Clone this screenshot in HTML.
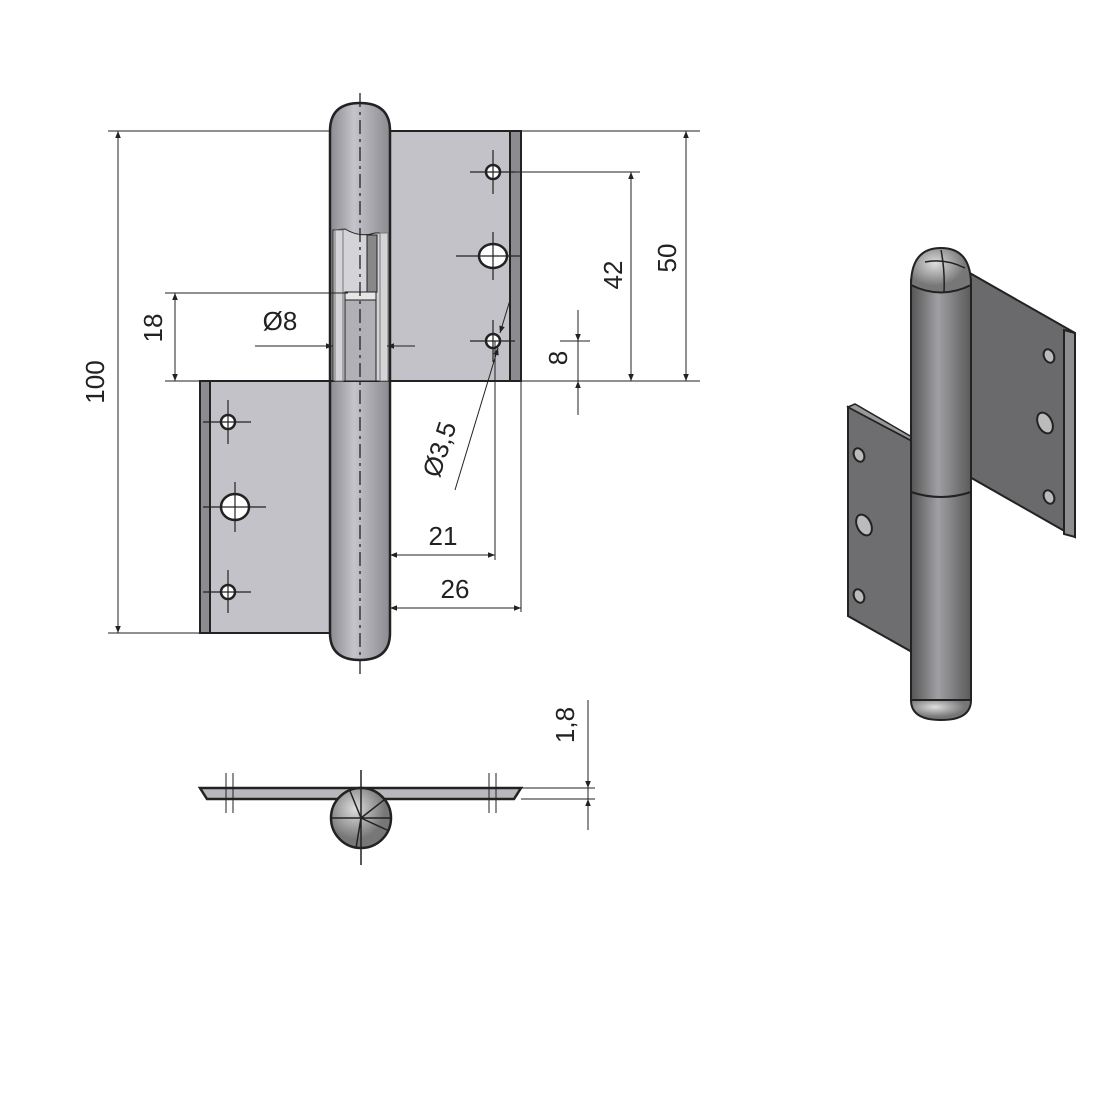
<!DOCTYPE html>
<html><head><meta charset="utf-8"><style>html,body{margin:0;padding:0;background:#fff}svg{display:block}text{font-family:"Liberation Sans",sans-serif;fill:#222}</style></head>
<body>
<svg width="1120" height="1101" viewBox="0 0 1120 1101" xmlns="http://www.w3.org/2000/svg">
<defs>
<linearGradient id="pin" x1="0" x2="1"><stop offset="0" stop-color="#8a8a90"/><stop offset=".4" stop-color="#c4c4ca"/><stop offset="1" stop-color="#8a8a90"/></linearGradient>
<linearGradient id="ipin" x1="0" x2="1"><stop offset="0" stop-color="#555"/><stop offset=".45" stop-color="#a0a0a4"/><stop offset="1" stop-color="#5a5a5a"/></linearGradient>
<radialGradient id="ball" cx=".4" cy=".35"><stop offset="0" stop-color="#ddd"/><stop offset="1" stop-color="#777"/></radialGradient>
<marker id="a" viewBox="0 0 10 10" refX="10" refY="5" markerWidth="9" markerHeight="7" orient="auto-start-reverse"><path d="M0,1L10,5L0,9z" fill="#222"/></marker>
</defs>
<g stroke="#222" stroke-width="1">
<rect x="388" y="131" width="133" height="250" fill="#c2c2c8" stroke-width="2"/>
<rect x="510" y="131" width="11" height="250" fill="#8c8c90" stroke-width="2"/>
<rect x="200" y="381" width="133" height="252" fill="#c2c2c8" stroke-width="2"/>
<rect x="200" y="381" width="10" height="252" fill="#8c8c90" stroke-width="2"/>
<path d="M330,131 Q330,103 360,103 Q390,103 390,131 L390,633 Q390,660 360,660 Q330,660 330,633 Z" fill="url(#pin)" stroke-width="2.5"/>
<line x1="330" y1="381" x2="390" y2="381" stroke-width="2"/>
<path d="M333,230 L345,229 Q360,238 375,233 L388,233 L388,381 L333,381 Z" fill="#d4d4d8" stroke-width="1"/>
<rect x="335" y="230" width="8" height="151" fill="none" stroke="#777"/>
<rect x="380" y="233" width="8" height="148" fill="none" stroke="#777"/>
<rect x="345" y="292" width="31" height="89" fill="#b0b0b6"/>
<rect x="345" y="292" width="31" height="8" fill="#e6e6e6"/>
<rect x="367" y="235" width="10" height="57" fill="#888"/>
<line x1="360" y1="93" x2="360" y2="675" stroke-dasharray="14,5,3,5" stroke-width="1.3"/>
<g fill="#fff" stroke-width="2.5">
<circle cx="493" cy="172" r="7"/><ellipse cx="493" cy="256" rx="14" ry="12"/><circle cx="493" cy="341" r="7"/>
<circle cx="228" cy="422" r="7"/><ellipse cx="235" cy="507" rx="14" ry="13"/><circle cx="228" cy="592" r="7"/>
</g>
<g stroke-width="1.2">
<path d="M470,172H515M493,150V194M456,256H520M493,232V280M470,341H515M493,320V362"/>
<path d="M203,422H251M228,400V444M203,507H266M235,482V532M203,592H251M228,570V613"/>
</g>
<g stroke-width="1" fill="none">
<path d="M108,131H330M108,633H330M165,293H348M165,381H200M470,172H640M390,381H700M521,131H700M521,381V612M495,341V560M560,341H590M560,381H590"/>
<line x1="118" y1="131" x2="118" y2="633" marker-start="url(#a)" marker-end="url(#a)"/>
<line x1="175" y1="293" x2="175" y2="381" marker-start="url(#a)" marker-end="url(#a)"/>
<line x1="631" y1="172" x2="631" y2="381" marker-start="url(#a)" marker-end="url(#a)"/>
<line x1="686" y1="131" x2="686" y2="381" marker-start="url(#a)" marker-end="url(#a)"/>
<line x1="578" y1="310" x2="578" y2="341" marker-end="url(#a)"/>
<line x1="578" y1="415" x2="578" y2="381" marker-end="url(#a)"/>
<line x1="578" y1="341" x2="578" y2="381"/>
<line x1="255" y1="346" x2="332" y2="346"/><line x1="388" y1="346" x2="415" y2="346"/>
<line x1="320" y1="346" x2="333" y2="346" marker-end="url(#a)"/><line x1="400" y1="346" x2="387" y2="346" marker-end="url(#a)"/>
<line x1="390" y1="555" x2="495" y2="555" marker-start="url(#a)" marker-end="url(#a)"/>
<line x1="390" y1="608" x2="521" y2="608" marker-start="url(#a)" marker-end="url(#a)"/>
<line x1="455" y1="490" x2="498" y2="348" marker-end="url(#a)"/>
<line x1="510" y1="300" x2="500" y2="333" marker-end="url(#a)"/>
</g>
<path d="M200,788H521L514,799H207Z" fill="#b8b8bc" stroke-width="2.5"/>
<circle cx="361" cy="818" r="30" fill="url(#ball)" stroke-width="2.5"/>
<path d="M361,818L350,791M361,818L384,800M361,818L387,830M361,818L356,848M330,818H390M361,770V865" stroke-width="1.5"/>
<path d="M226,773V813M233,773V813M489,773V813M496,773V813" stroke-width="1"/>
<path d="M521,788H595M521,799H595M588,700V830" stroke-width="1" fill="none"/>
<line x1="588" y1="770" x2="588" y2="788" marker-end="url(#a)"/>
<line x1="588" y1="815" x2="588" y2="799" marker-end="url(#a)"/>
<polygon points="968,272 1075,333 1075,537 968,476" fill="#6a6a6c" stroke-width="2"/>
<polygon points="1064,330 1075,333 1075,537 1064,534" fill="#8e8e90" stroke-width="2"/>
<polygon points="848,407 912,441 912,652 848,616" fill="#6e6e70" stroke-width="2"/>
<polygon points="848,407 855,404 912,437 912,441" fill="#999" stroke-width="1.5"/>
<g fill="#bbb" stroke-width="2">
<ellipse cx="1049" cy="356" rx="5" ry="7" transform="rotate(-25 1049 356)"/>
<ellipse cx="1045" cy="423" rx="7" ry="11" transform="rotate(-25 1045 423)"/>
<ellipse cx="1049" cy="497" rx="5" ry="7" transform="rotate(-25 1049 497)"/>
<ellipse cx="859" cy="455" rx="5" ry="7" transform="rotate(-25 859 455)"/>
<ellipse cx="864" cy="525" rx="7" ry="11" transform="rotate(-25 864 525)"/>
<ellipse cx="859" cy="596" rx="5" ry="7" transform="rotate(-25 859 596)"/>
</g>
<rect x="911" y="280" width="60" height="420" fill="url(#ipin)" stroke-width="2"/>
<path d="M911,700 Q911,720 941,720 Q971,720 971,700 Z" fill="url(#ball)" stroke-width="2"/>
<path d="M911,285 Q911,248 941,248 Q971,248 971,285 Q941,300 911,285 Z" fill="url(#ball)" stroke-width="2"/>
<path d="M941,250 Q945,270 944,292 M925,262 Q945,258 965,268" stroke-width="1.5" fill="none"/>
<path d="M911,492 Q941,502 971,492" stroke-width="2" fill="none"/>
</g>
<g font-size="26">
<text transform="translate(104,382) rotate(-90)" text-anchor="middle">100</text>
<text transform="translate(162,328) rotate(-90)" text-anchor="middle">18</text>
<text x="280" y="330" text-anchor="middle">Ø8</text>
<text transform="translate(622,275) rotate(-90)" text-anchor="middle">42</text>
<text transform="translate(676,258) rotate(-90)" text-anchor="middle">50</text>
<text transform="translate(567,358) rotate(-90)" text-anchor="middle">8</text>
<text transform="translate(448,452) rotate(-72)" text-anchor="middle">Ø3,5</text>
<text x="443" y="545" text-anchor="middle">21</text>
<text x="455" y="598" text-anchor="middle">26</text>
<text transform="translate(574,725) rotate(-90)" text-anchor="middle">1,8</text>
</g>
</svg>
</body></html>
